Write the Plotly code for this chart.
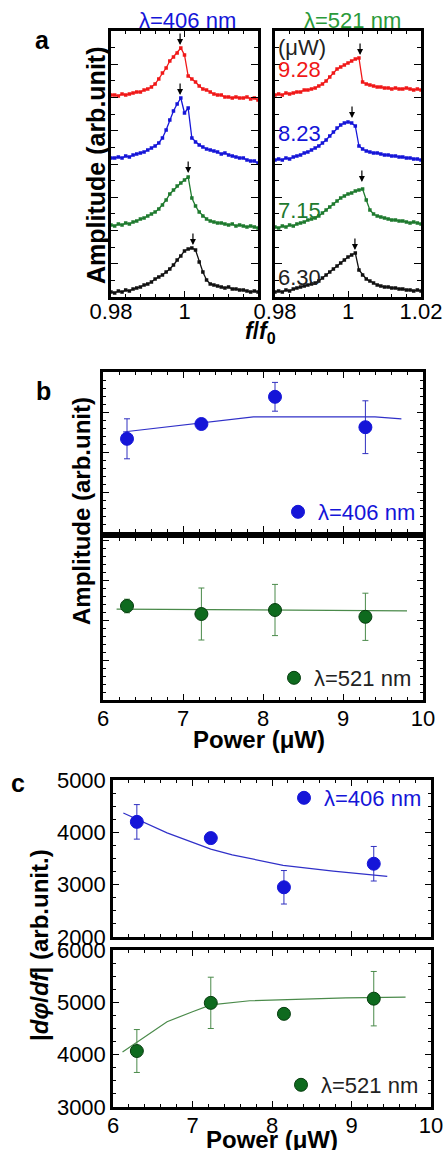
import plotly.graph_objects as go

FONT = "Arial, Liberation Sans, sans-serif"
OFF = 0                      # page body margin is removed below, so the figure starts at (0, 0)
W, H = 446, 1150

# ---------------- Panel a data: resonance spectra (f/f0 vs amplitude, offset curves) -------------
f_grid = [0.980, 0.981, 0.982, 0.983, 0.984, 0.985, 0.986, 0.987, 0.988, 0.989,
          0.990, 0.991, 0.992, 0.993, 0.994, 0.995, 0.996, 0.997, 0.998, 0.999,
          1.000, 1.001, 1.002, 1.003, 1.004, 1.005, 1.006, 1.007, 1.008, 1.009,
          1.010, 1.011, 1.012, 1.013, 1.014, 1.015, 1.016, 1.017, 1.018, 1.019, 1.020]

# lambda = 406 nm
amp406_928 = [202, 202, 201, 203, 202, 203, 204, 205, 205, 207, 208, 210, 213, 218, 224, 229, 236, 240, 244, 249,
              242, 221, 218, 215, 211, 208, 207, 205, 203, 202, 202, 200, 200, 199, 200, 199, 199, 200, 198, 199, 197]
amp406_823 = [139, 139, 140, 139, 141, 140, 142, 143, 144, 145, 147, 149, 151, 154, 159, 167, 177, 186, 193, 199,
              184, 189, 159, 155, 152, 150, 148, 147, 146, 145, 143, 144, 142, 141, 140, 139, 139, 137, 136, 136, 134]
amp406_715 = [72, 71, 73, 72, 74, 73, 75, 76, 78, 79, 81, 83, 85, 88, 92, 97, 103, 107, 111, 114,
              117, 120, 99, 91, 85, 81, 78, 76, 75, 74, 74, 73, 72, 73, 71, 72, 71, 70, 71, 70, 69]
amp406_630 = [5, 4, 6, 5, 7, 6, 8, 9, 10, 12, 13, 15, 18, 20, 22, 25, 28, 32, 37, 41,
              46, 48, 49, 47, 35, 25, 17, 13, 12, 11, 10, 9, 10, 8, 8, 7, 7, 6, 5, 6, 5]
# lambda = 521 nm
amp521_928 = [202, 203, 202, 204, 203, 204, 205, 205, 207, 207, 208, 209, 211, 213, 216, 220, 224, 228, 230, 232,
              234, 236, 238, 239, 215, 213, 212, 211, 210, 210, 209, 209, 208, 209, 208, 208, 209, 208, 207, 208, 207]
amp521_823 = [137, 138, 137, 139, 138, 140, 141, 142, 144, 145, 147, 149, 151, 154, 157, 161, 165, 169, 172, 174,
              175, 174, 171, 151, 148, 146, 145, 144, 144, 143, 142, 142, 141, 141, 140, 140, 139, 139, 138, 138, 137]
amp521_715 = [70, 69, 71, 70, 72, 71, 73, 74, 75, 77, 78, 79, 81, 84, 87, 90, 93, 96, 99, 101,
              103, 104, 106, 107, 108, 97, 87, 83, 81, 80, 79, 78, 77, 77, 76, 76, 75, 74, 75, 74, 73]
amp521_630 = [5, 6, 5, 7, 6, 8, 9, 10, 11, 12, 13, 14, 16, 19, 22, 25, 28, 31, 34, 37,
              40, 42, 44, 27, 22, 18, 16, 14, 12, 11, 10, 10, 9, 9, 8, 8, 7, 7, 6, 7, 6]

power_labels = ["9.28", "8.23", "7.15", "6.30"]
label_amp = [228, 164, 87, 20]

# arrow tips (f, amplitude)
arrow406_f = [0.9988, 0.9988, 1.0010, 1.0023]
arrow406_amp = [252, 202, 124, 52]
arrow521_f = [1.0033, 1.0011, 1.0038, 1.0019]
arrow521_amp = [242, 179, 115, 47]

# ---------------- Panel b / c data -------------
power = [6.30, 7.23, 8.15, 9.28]
ampb_406 = [2.33, 2.70, 3.38, 2.62]
ampb_406_err = [0.50, 0.0, 0.36, 0.66]
ampb_521 = [2.35, 2.15, 2.25, 2.08]
ampb_521_err = [0.17, 0.65, 0.64, 0.59]
fitb_406_x = [6.25, 7.20, 7.88, 9.40, 9.55, 9.73]
fitb_406_y = [2.50, 2.73, 2.88, 2.88, 2.85, 2.83]
fitb_521_x = [6.17, 9.80]
fitb_521_y = [2.27, 2.23]

dphi_406 = [4200, 3890, 2950, 3400]
dphi_406_err = [330, 0, 320, 330]
dphi_521 = [4070, 4990, 4780, 5070]
dphi_521_err = [410, 490, 0, 520]
fitc_406_x = [6.13, 6.68, 7.23, 7.50, 8.14, 8.77, 9.45]
fitc_406_y = [4370, 3990, 3680, 3570, 3370, 3260, 3160]
fitc_521_x = [6.12, 6.34, 6.68, 7.00, 7.23, 7.72, 8.35, 8.93, 9.68]
fitc_521_y = [4050, 4280, 4630, 4820, 4950, 5030, 5065, 5085, 5100]

RED = "#f01818"
BLUE = "#1515d8"
GREEN = "#1e7a2e"
BLACK = "#111111"
TITLE_GREEN = "#2a9a3a"
DKGREEN = "#0e6a1e"
LTGREEN = "#4a8a4a"
TICKSIZE = 22


def px(x):
    return (x - OFF) / W


def py(y):
    return 1 - (y - OFF) / H


fig = go.Figure()

# spectra
for xa, ya, curves in [
    ("x", "y", [(amp406_928, RED), (amp406_823, BLUE), (amp406_715, GREEN), (amp406_630, BLACK)]),
    ("x2", "y2", [(amp521_928, RED), (amp521_823, BLUE), (amp521_715, GREEN), (amp521_630, BLACK)]),
]:
    for amp, col in curves:
        fig.add_trace(go.Scatter(
            x=f_grid, y=amp, mode="lines+markers", xaxis=xa, yaxis=ya, showlegend=False,
            line=dict(color=col, width=1.3), marker=dict(symbol="square", size=3.5, color=col)))


def add_points(xa, ya, y, err, fitx, fity, color, edge, errcolor, linecolor, name, legend):
    fig.add_trace(go.Scatter(
        x=fitx, y=fity, mode="lines", xaxis=xa, yaxis=ya, showlegend=False,
        line=dict(color=linecolor, width=1.2)))
    fig.add_trace(go.Scatter(
        x=power, y=y, mode="markers", xaxis=xa, yaxis=ya, name=name, legend=legend,
        marker=dict(size=13, color=color, line=dict(color=edge, width=1)),
        error_y=dict(type="data", array=err, visible=True, color=errcolor, thickness=1, width=3)))


add_points("x3", "y3", ampb_406, ampb_406_err, fitb_406_x, fitb_406_y, BLUE, BLUE, "#3030c0", "#3030c8",
           "λ=406 nm", "legend")
add_points("x4", "y4", ampb_521, ampb_521_err, fitb_521_x, fitb_521_y, DKGREEN, "#073d0f", LTGREEN, LTGREEN,
           "λ=521 nm", "legend2")
add_points("x5", "y5", dphi_406, dphi_406_err, fitc_406_x, fitc_406_y, BLUE, BLUE, "#3030c0", "#3030c8",
           "λ=406 nm", "legend3")
add_points("x6", "y6", dphi_521, dphi_521_err, fitc_521_x, fitc_521_y, DKGREEN, "#073d0f", LTGREEN, LTGREEN,
           "λ=521 nm", "legend4")


def axis(domain, rng, anchor, minor_dtick, tick0=None, dtick=None, labels=False, tickvals=None, ticktext=None,
         ticklen=6, minorlen=3, standoff=0):
    d = dict(domain=domain, range=rng, anchor=anchor, showline=True, linewidth=2.5, linecolor="black",
             mirror="ticks", ticks="inside", ticklen=ticklen, tickwidth=1, tickcolor="black",
             showgrid=False, zeroline=False, showticklabels=labels, automargin=False,
             ticklabelstandoff=standoff,
             tickfont=dict(family=FONT, size=TICKSIZE, color="black"),
             minor=dict(ticks="inside", ticklen=minorlen, tickwidth=1, tickcolor="black", dtick=minor_dtick,
                        tick0=tick0 if tick0 is not None else rng[0], showgrid=False))
    if tickvals is not None:
        d.update(tickmode="array", tickvals=tickvals, ticktext=ticktext)
    else:
        d.update(tickmode="linear", tick0=tick0 if tick0 is not None else rng[0], dtick=dtick)
    return d


ya_dom = [py(297), py(31)]
xb_dom = [px(103), px(423)]
xc_dom = [px(113), px(431)]

fig.update_layout(
    width=W, height=H, autosize=False, margin=dict(l=0, r=0, t=0, b=0),
    plot_bgcolor="white", paper_bgcolor="white", font=dict(family=FONT, color="black"),
    xaxis=axis([px(111), px(258)], [0.98, 1.02], "y", 0.004, labels=True,
               tickvals=[0.98, 1.0, 1.02], ticktext=["0.98", "1", ""], standoff=-7),
    yaxis=axis(ya_dom, [0, 266], "x", 16.625, tick0=0, dtick=33.25, ticklen=7, minorlen=4),
    xaxis2=axis([px(275), px(421)], [0.98, 1.02], "y2", 0.004, labels=True,
                tickvals=[0.98, 1.0, 1.02], ticktext=["0.98", "1", "1.02"], standoff=-7),
    yaxis2=axis(ya_dom, [0, 266], "x2", 16.625, tick0=0, dtick=33.25, ticklen=7, minorlen=4),
    xaxis3=axis(xb_dom, [6, 10], "y3", 0.2, tick0=6, dtick=1),
    yaxis3=axis([py(532), py(372)], [0, 4], "x3", 0.2, tick0=0, dtick=1),
    xaxis4=axis(xb_dom, [6, 10], "y4", 0.2, tick0=6, dtick=1, labels=True, standoff=-3),
    yaxis4=axis([py(700), py(538)], [0, 4.05], "x4", 0.2, tick0=0, dtick=1),
    xaxis5=axis(xc_dom, [6, 10], "y5", 0.2, tick0=6, dtick=1),
    yaxis5=axis([py(937), py(780)], [2000, 5000], "x5", 250, tick0=2000, dtick=1000, labels=True),
    xaxis6=axis(xc_dom, [6, 10], "y6", 0.2, tick0=6, dtick=1, labels=True, standoff=-3),
    yaxis6=axis([py(1107), py(950)], [3000, 6000], "x6", 250, tick0=3000, dtick=1000, labels=True),
)

leg_common = dict(xanchor="right", yanchor="middle", bgcolor="rgba(0,0,0,0)", borderwidth=0,
                  itemwidth=30, tracegroupgap=0)
fig.update_layout(
    legend=dict(x=px(421), y=py(512), font=dict(family=FONT, size=22, color=BLUE), **leg_common),
    legend2=dict(x=px(417), y=py(678), font=dict(family=FONT, size=22, color="#222222"), **leg_common),
    legend3=dict(x=px(427), y=py(798), font=dict(family=FONT, size=22, color=BLUE), **leg_common),
    legend4=dict(x=px(424), y=py(1085), font=dict(family=FONT, size=22, color="#222222"), **leg_common),
)

ann = []


def txt(x, y, text, size=20, color="black", angle=0, xanchor="center", yanchor="middle", xref="paper",
        yref="paper"):
    ann.append(dict(x=x, y=y, xref=xref, yref=yref, text=text, showarrow=False, textangle=angle,
                    xanchor=xanchor, yanchor=yanchor, font=dict(family=FONT, size=size, color=color)))


txt(px(187), py(20), "λ=406 nm", 22, BLUE)
txt(px(352), py(20), "λ=521 nm", 22, TITLE_GREEN)
txt(px(42), py(40), "<b>a</b>", 25)
txt(px(43), py(391), "<b>b</b>", 25)
txt(px(18), py(783), "<b>c</b>", 25)
txt(px(96), py(166), "<b>Amplitude (arb.unit)</b>", 25, angle=-90)
txt(px(260), py(332), "<b><i>f</i>/<i>f</i><sub>0</sub></b>", 23)
txt(px(82), py(511), "<b>Amplitude (arb.unit)</b>", 24, angle=-90)
txt(px(259), py(739), "<b>Power (μW)</b>", 24)
txt(px(39), py(945), "<b>|<i>d</i><i>φ</i>/<i>df</i>| (arb.unit.)</b>", 24, angle=-90)
txt(px(272), py(1139), "<b>Power (μW)</b>", 24)

# right panel power labels
txt(0.9802, 250, "(μW)", 22, "#222222", xanchor="left", xref="x2", yref="y2")
for lab, a, col in zip(power_labels, label_amp, [RED, BLUE, GREEN, "#222222"]):
    txt(0.9803, a, lab, 22, col, xanchor="left", xref="x2", yref="y2")

# arrows marking the peaks
for xr, yr, fs, amps in [("x", "y", arrow406_f, arrow406_amp), ("x2", "y2", arrow521_f, arrow521_amp)]:
    for f, a in zip(fs, amps):
        ann.append(dict(x=f, y=a, xref=xr, yref=yr, text="", showarrow=True, ax=0, ay=-13,
                        arrowhead=2, arrowsize=1, arrowwidth=1.2, arrowcolor="black"))

fig.update_layout(annotations=ann)
fig.write_html("out.html", config={"displayModeBar": False},
               post_script="document.body.style.margin='0';document.body.style.overflow='hidden';")
